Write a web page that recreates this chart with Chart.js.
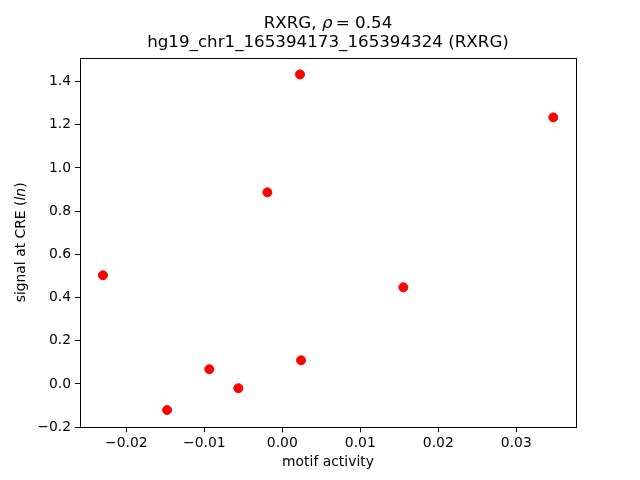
<!DOCTYPE html>
<html>
<head>
<meta charset="utf-8">
<script src="https://cdn.jsdelivr.net/npm/chart.js@4/dist/chart.umd.min.js"></script>
<style>
  html, body { margin: 0; padding: 0; background: #fff; }
  #wrap { width: 640px; height: 480px; }
</style>
</head>
<body>
<div id="wrap"><canvas id="chart" width="640" height="480"></canvas></div>
<script>
// values
const motifActivity = [0.00227, 0.03474, -0.00192, -0.02299, 0.01551, 0.00240, -0.00936, -0.00564, -0.01478];
const creSignal = [1.433, 1.234, 0.887, 0.503, 0.447, 0.109, 0.068, -0.020, -0.121];

const xTicks = [-0.02, -0.01, 0.00, 0.01, 0.02, 0.03];
const yTicks = [-0.2, 0.0, 0.2, 0.4, 0.6, 0.8, 1.0, 1.2, 1.4];

const FONT = 'DejaVu Sans';
const minus = (s) => s.replace('-', '\u2212');

// draw a line of text made of pieces (some italic), centred on cx
function drawPieces(ctx, pieces, cx, cy, size) {
  let total = 0;
  pieces.forEach(p => {
    ctx.font = `${p.italic ? 'italic ' : ''}${size}px "${FONT}"`;
    p.w = ctx.measureText(p.text).width;
    total += p.w;
  });
  let x = cx - total / 2;
  ctx.textAlign = 'left';
  ctx.textBaseline = 'middle';
  pieces.forEach(p => {
    ctx.font = `${p.italic ? 'italic ' : ''}${size}px "${FONT}"`;
    ctx.fillText(p.text, x, cy);
    x += p.w;
  });
}

const decorations = {
  id: 'decorations',
  afterDraw(chart) {
    const ctx = chart.ctx;
    const a = chart.chartArea;
    const cx = (a.left + a.right) / 2;
    ctx.save();
    ctx.fillStyle = '#000';

    // frame round the plot area
    ctx.strokeStyle = '#000';
    ctx.lineWidth = 1;
    ctx.strokeRect(Math.round(a.left) + 0.5, Math.round(a.top) + 0.5,
                   Math.round(a.right - a.left), Math.round(a.bottom - a.top) - 1);

    // titles
    drawPieces(ctx, [{ text: 'RXRG, ' }, { text: '\u03C1', italic: true }, { text: '\u2009= 0.54' }], cx, 24, 16.7);
    drawPieces(ctx, [{ text: 'hg19_chr1_165394173_165394324 (RXRG)' }], cx, 43, 16.7);

    // axis labels
    drawPieces(ctx, [{ text: 'motif activity' }], cx, 462, 13.9);
    ctx.translate(21, (a.top + a.bottom) / 2);
    ctx.rotate(-Math.PI / 2);
    drawPieces(ctx, [{ text: 'signal at CRE (' }, { text: 'ln', italic: true }, { text: ')' }], 0, 0, 13.9);
    ctx.restore();
  }
};

new Chart(document.getElementById('chart'), {
  type: 'scatter',
  data: {
    datasets: [{
      data: motifActivity.map((x, i) => ({ x, y: creSignal[i] })),
      backgroundColor: '#ff0000',
      borderColor: '#ff0000',
      pointRadius: 4.5,
      pointHoverRadius: 4.5,
    }],
  },
  options: {
    responsive: false,
    animation: false,
    layout: { padding: { top: 57.6, right: 64, left: 0, bottom: 0 } },
    plugins: { legend: { display: false }, tooltip: { enabled: false } },
    scales: {
      x: {
        type: 'linear',
        min: -0.02594,
        max: 0.03765,
        afterBuildTicks: (scale) => { scale.ticks = xTicks.map(v => ({ value: v })); },
        afterFit: (scale) => { scale.height = 52.8; },
        grid: { drawOnChartArea: false, tickLength: 5, color: '#000', tickWidth: 1 },
        border: { display: false },
        ticks: {
          color: '#000',
          font: { family: FONT, size: 13.9 },
          padding: 3,
          maxRotation: 0,
          autoSkip: false,
          callback: (v) => minus(v.toFixed(2)),
        },
      },
      y: {
        type: 'linear',
        min: -0.2005,
        max: 1.511,
        afterBuildTicks: (scale) => { scale.ticks = yTicks.map(v => ({ value: v })); },
        afterFit: (scale) => { scale.width = 80; },
        grid: { drawOnChartArea: false, tickLength: 5, color: '#000', tickWidth: 1 },
        border: { display: false },
        ticks: {
          color: '#000',
          font: { family: FONT, size: 13.9 },
          padding: 4,
          autoSkip: false,
          callback: (v) => minus(v.toFixed(1)),
        },
      },
    },
  },
  plugins: [decorations],
});
</script>
</body>
</html>
